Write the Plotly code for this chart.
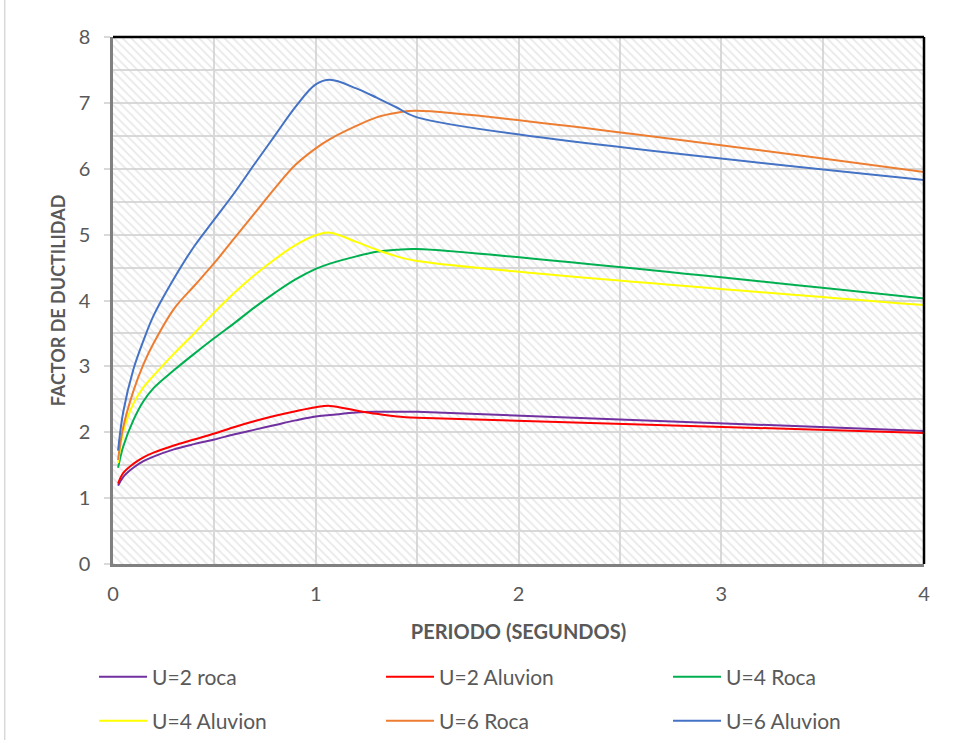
import plotly.graph_objects as go

# Periodo (segundos)
periodo = [0.025, 0.05, 0.1, 0.15, 0.2, 0.3, 0.4, 0.5, 0.6, 0.7, 0.8, 0.9,
           1.0, 1.07, 1.2, 1.3, 1.4, 1.5, 4.0]

# Factor de ductilidad por serie
u2_roca = [1.19, 1.32, 1.46, 1.56, 1.63, 1.74, 1.82, 1.89, 1.97, 2.04, 2.11, 2.18,
           2.24, 2.26, 2.30, 2.31, 2.31, 2.31, 2.02]
u2_aluvion = [1.22, 1.38, 1.52, 1.62, 1.69, 1.80, 1.89, 1.98, 2.08, 2.17, 2.25, 2.32,
              2.38, 2.40, 2.33, 2.28, 2.24, 2.22, 1.99]
u4_roca = [1.46, 1.78, 2.18, 2.47, 2.67, 2.94, 3.19, 3.43, 3.66, 3.90, 4.12, 4.32,
           4.48, 4.56, 4.67, 4.74, 4.77, 4.78, 4.03]
u4_aluvion = [1.53, 2.00, 2.43, 2.68, 2.86, 3.19, 3.50, 3.82, 4.12, 4.39, 4.63, 4.84,
              4.99, 5.03, 4.89, 4.77, 4.67, 4.60, 3.93]
u6_roca = [1.58, 2.07, 2.62, 3.03, 3.35, 3.87, 4.22, 4.57, 4.95, 5.33, 5.71, 6.06,
           6.31, 6.45, 6.65, 6.78, 6.85, 6.88, 5.95]
u6_aluvion = [1.72, 2.30, 2.95, 3.39, 3.77, 4.33, 4.82, 5.23, 5.64, 6.08, 6.51, 6.94,
              7.28, 7.35, 7.22, 7.08, 6.93, 6.78, 5.83]

# (name, values, colour, legend row)
series = [
    ("U=2 roca", u2_roca, "#7030A0", "legend"),
    ("U=2 Aluvion", u2_aluvion, "#FF0000", "legend"),
    ("U=4 Roca", u4_roca, "#00B050", "legend"),
    ("U=4 Aluvion", u4_aluvion, "#FFFF00", "legend2"),
    ("U=6 Roca", u6_roca, "#ED7D31", "legend2"),
    ("U=6 Aluvion", u6_aluvion, "#4472C4", "legend2"),
]

x_range = [0, 4]
y_range = [0, 8]
font_family = "Lato, 'Open Sans', sans-serif"
text_gray = "#595959"
grid_gray = "#D9D9D9"

fig = go.Figure()

# Diagonal hatch filling the plotting area
fig.add_trace(go.Bar(
    x=[(x_range[0] + x_range[1]) / 2], y=[y_range[1] - y_range[0]], base=[y_range[0]],
    width=[x_range[1] - x_range[0]],
    marker=dict(color="rgba(0,0,0,0)", line=dict(width=0),
                pattern=dict(shape="\\", fgcolor="#D2D2D2", bgcolor="rgba(0,0,0,0)",
                             size=6, solidity=0.3)),
    showlegend=False, hoverinfo="skip",
))

for name, vals, color, leg in series:
    fig.add_trace(go.Scatter(
        x=periodo, y=vals, name=name, mode="lines", legend=leg,
        line=dict(color=color, width=2, shape="spline", smoothing=1.0),
    ))

legend_common = dict(
    orientation="h", xanchor="left", yanchor="middle",
    entrywidth=224, entrywidthmode="pixels", itemwidth=48,
    font=dict(size=21, color=text_gray, family=font_family),
    bgcolor="rgba(0,0,0,0)",
)

fig.update_layout(
    width=971, height=740,
    margin=dict(l=113, r=47, t=37, b=176, autoexpand=False),
    paper_bgcolor="white", plot_bgcolor="white",
    font=dict(family=font_family, color=text_gray, size=20),
    showlegend=True,
    legend=dict(x=-0.0234, y=-0.2144, **legend_common),
    legend2=dict(x=-0.0234, y=-0.2979, **legend_common),
    bargap=0,
)

fig.update_xaxes(
    range=x_range, dtick=1, tick0=0, showgrid=True, gridcolor=grid_gray, gridwidth=2,
    minor=dict(dtick=0.5, showgrid=True, gridcolor=grid_gray, gridwidth=2),
    showline=True, linecolor="#808080", linewidth=2.5, automargin=False,
    ticks="", zeroline=False, tickfont=dict(size=20, color=text_gray),
    ticklabelstandoff=10,
    title=dict(text="<b>PERIODO (SEGUNDOS)</b>", font=dict(size=20, color=text_gray),
               standoff=22),
)
fig.update_yaxes(
    range=y_range, dtick=1, tick0=0, showgrid=True, gridcolor=grid_gray, gridwidth=2,
    minor=dict(dtick=0.5, showgrid=True, gridcolor=grid_gray, gridwidth=2),
    showline=True, linecolor="#808080", linewidth=2.5, automargin=False,
    ticks="outside", ticklen=6, tickcolor=grid_gray, tickwidth=1.5,
    zeroline=False, tickfont=dict(size=20, color=text_gray), ticklabelstandoff=10,
    title=dict(text="<b>FACTOR DE DUCTILIDAD</b>", font=dict(size=18, color=text_gray),
               standoff=9),
)

# Dark frame on top and right of the plotting area
fig.add_shape(type="line", xref="paper", yref="paper", x0=0, x1=1, y0=1, y1=1,
              line=dict(color="black", width=2.5))
fig.add_shape(type="line", xref="paper", yref="paper", x0=1, x1=1, y0=0, y1=1,
              line=dict(color="black", width=2.5))
# Chart-area border on the left
fig.add_shape(type="line", xref="paper", yref="paper", x0=-0.1335, x1=-0.1335,
              y0=-0.34, y1=1.08, line=dict(color=grid_gray, width=1.5))

fig.write_html("out.html")
